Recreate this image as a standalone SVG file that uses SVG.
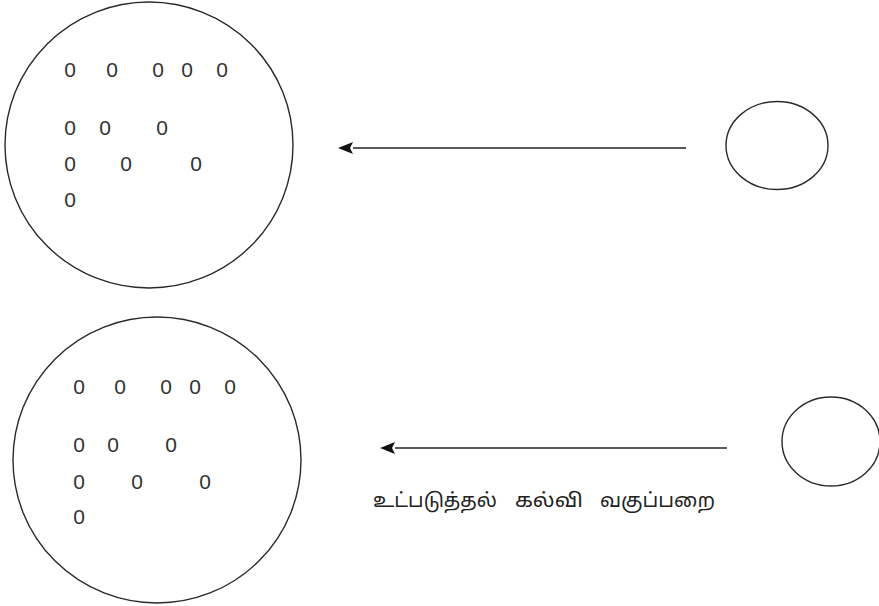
<svg xmlns="http://www.w3.org/2000/svg" width="879" height="606" viewBox="0 0 879 606">
<defs>
<style>
.c{fill:none;stroke:#2a2a2a;stroke-width:1.4}
.z{font-family:"Liberation Sans",Arial,sans-serif;font-size:21px;fill:#333;text-anchor:middle}
.a{stroke:#222;stroke-width:1.6;fill:none}
.t{font-family:"Noto Sans Tamil","Lohit Tamil","Noto Serif Tamil","Noto Sans",sans-serif;font-size:19.5px;fill:#222}
</style>
</defs>
<rect width="879" height="606" fill="#fff"/>
<g id="class-top">
<ellipse class="c" cx="149" cy="145" rx="144" ry="143"/>
<g class="z">
<text x="70" y="77">0</text><text x="112" y="77">0</text><text x="158" y="77">0</text><text x="187" y="77">0</text><text x="222" y="77">0</text>
<text x="70" y="135">0</text><text x="105" y="135">0</text><text x="162" y="135">0</text>
<text x="70" y="171">0</text><text x="126" y="171">0</text><text x="196" y="171">0</text>
<text x="70" y="207">0</text>
</g>
</g>
<g id="class-bottom">
<ellipse class="c" cx="157" cy="460" rx="144" ry="143"/>
<g class="z">
<text x="79" y="394">0</text><text x="120" y="394">0</text><text x="166" y="394">0</text><text x="195" y="394">0</text><text x="230" y="394">0</text>
<text x="79" y="452">0</text><text x="113" y="452">0</text><text x="171" y="452">0</text>
<text x="79" y="489">0</text><text x="137" y="489">0</text><text x="205" y="489">0</text>
<text x="79" y="524">0</text>
</g>
</g>
<g id="child-top">
<ellipse class="c" cx="777" cy="145.5" rx="51" ry="44"/>
</g>
<g id="child-bottom">
<ellipse class="c" cx="831" cy="441.5" rx="49" ry="44.5"/>
</g>
<g id="connectors">
<line class="a" x1="686" y1="148" x2="353" y2="148"/>
<path d="M338,148 L353,142 L350,148 L353,154 z" fill="#111"/>
<line class="a" x1="727" y1="448" x2="395" y2="448"/>
<path d="M380,448 L395,442 L392,448 L395,454 z" fill="#111"/>
</g>
<g id="label" class="t">
<text x="373" y="507" textLength="124" lengthAdjust="spacingAndGlyphs">உட்படுத்தல்</text>
<text x="515" y="507" textLength="68" lengthAdjust="spacingAndGlyphs">கல்வி</text>
<text x="600" y="507" textLength="115" lengthAdjust="spacingAndGlyphs">வகுப்பறை</text>
</g>
</svg>
